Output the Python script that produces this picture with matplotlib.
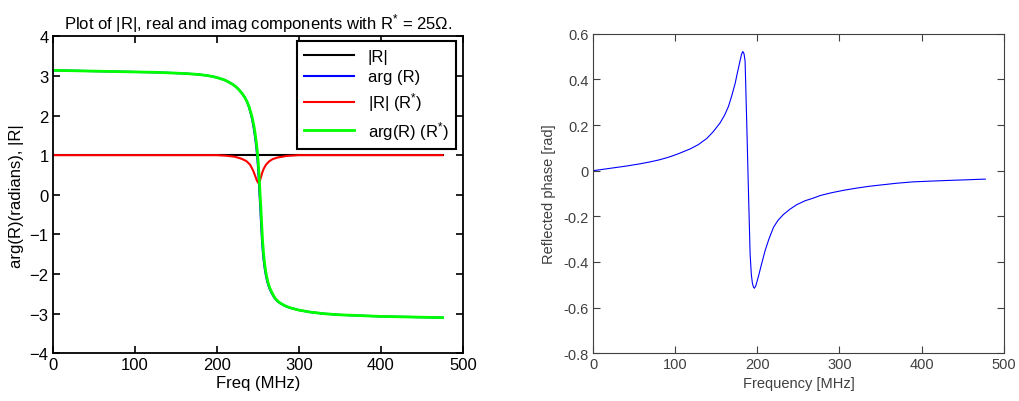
import matplotlib
matplotlib.use('Agg')
import matplotlib.pyplot as plt

plt.rcParams['font.family'] = ['Liberation Sans', 'DejaVu Sans']
plt.rcParams['mathtext.fontset'] = 'custom'
plt.rcParams['mathtext.rm'] = 'Liberation Sans'
plt.rcParams['mathtext.it'] = 'Liberation Sans'

# left panel: |R| and arg(R) vs frequency
freq_g = [0, 25, 50, 75, 100, 125, 150, 165, 178, 188, 196, 203, 209, 214, 219, 223, 227, 231,
          234, 237, 239.5, 241.5, 243.3, 245, 246.5, 247.7, 248.8, 249.8, 250.8, 251.8, 252.6,
          253.6, 254.7, 255.7, 256.7, 257.7, 258.7, 259.8, 260.8, 262.1, 263.5, 265.1, 266.9,
          269, 271, 274, 277, 283, 289, 300, 313.5, 330, 350, 375, 400, 425, 450, 475]
arg_rstar = [3.14, 3.13, 3.12, 3.11, 3.10, 3.09, 3.07, 3.055, 3.035, 3.01, 2.98, 2.94, 2.90,
             2.85, 2.79, 2.73, 2.65, 2.55, 2.46, 2.34, 2.21, 2.07, 1.93, 1.76, 1.57, 1.39, 1.20,
             0.98, 0.72, 0.38, 0.05, -0.30, -0.76, -1.14, -1.42, -1.64, -1.81, -1.96, -2.07,
             -2.19, -2.29, -2.38, -2.46, -2.54, -2.61, -2.68, -2.73, -2.80, -2.85, -2.91, -2.96,
             -3.00, -3.03, -3.05, -3.07, -3.08, -3.09, -3.10]
freq_b = [0, 25, 50, 75, 100, 125, 150, 165, 178, 188, 196, 203, 209, 214, 219, 223, 227, 231,
          234, 237, 239.2, 241.0, 242.7, 244.3, 245.8, 247.0, 248.1, 249.1, 250.1, 251.1, 251.9,
          252.9, 254.0, 255.0, 256.0, 257.0, 258.0, 259.1, 260.1, 261.4, 262.8, 264.4, 266.2,
          268.4, 270.4, 273.5, 276.5, 282.6, 288.7, 300, 313.5, 330, 350, 375, 400, 425, 450, 475]
arg_r = arg_rstar
freq_k = [0, 475]
mag_r = [1.0, 1.0]
freq_r = [0, 200, 212, 222, 230, 236, 240.5, 244.5, 247, 248.8, 250.5, 252, 253.6, 255.2,
          257.2, 260, 263.5, 268, 274, 285, 300, 475]
mag_rstar = [1.0, 1.0, 0.985, 0.96, 0.91, 0.85, 0.76, 0.60, 0.46, 0.36, 0.30, 0.33, 0.43, 0.55,
             0.66, 0.76, 0.84, 0.90, 0.94, 0.98, 1.0, 1.0]

# right panel: reflected phase
freq_p = [0, 20, 40, 57, 70, 80, 90, 97.6, 105, 117.9, 128, 138.3, 146, 154.5, 160, 164.7, 168.5,
          172.8, 176, 178.9, 180.7, 182.2, 183.7, 185, 187, 189, 191.1, 192.6, 193.9, 195.2,
          196.3, 198, 201.2, 205, 209.4, 214, 219.5, 225, 231.7, 240, 248, 258, 268.3, 276.5,
          290, 305, 320, 335, 349.6, 370, 390, 410, 431, 455, 477.7]
phase = [0.0, 0.01, 0.02, 0.03, 0.039, 0.047, 0.057, 0.066, 0.076, 0.095, 0.114, 0.141, 0.170,
         0.209, 0.243, 0.281, 0.325, 0.381, 0.435, 0.482, 0.510, 0.522, 0.512, 0.48, 0.209,
         -0.077, -0.364, -0.455, -0.493, -0.510, -0.515, -0.505, -0.464, -0.41, -0.35, -0.30,
         -0.249, -0.218, -0.192, -0.168, -0.149, -0.132, -0.12, -0.109, -0.097, -0.086, -0.077,
         -0.069, -0.063, -0.055, -0.049, -0.046, -0.043, -0.040, -0.037]

fig = plt.figure(figsize=(10.19, 4.02), dpi=100)

ax1 = fig.add_axes([0.0517, 0.1187, 0.4027, 0.7886])
ax1.plot(freq_k, mag_r, color='k', linewidth=1.5, label='|R|')
ax1.plot(freq_b, arg_r, color='#0000ff', linewidth=1.5, label='arg (R)')
ax1.plot(freq_r, mag_rstar, color='#ff0000', linewidth=1.5, label='|R| (R$^{*}$)')
ax1.plot(freq_g, arg_rstar, color='#00ff00', linewidth=2.0, label='arg(R) (R$^{*}$)')
ax1.set_xlim(0, 500)
ax1.set_ylim(-4, 4)
ax1.set_xticks([0, 100, 200, 300, 400, 500])
ax1.set_yticks([-4, -3, -2, -1, 0, 1, 2, 3, 4])
ax1.tick_params(direction='in', top=True, right=True, labelsize=12, width=1.2, length=5, pad=3)
for s in ax1.spines.values():
    s.set_linewidth(1.3)
ax1.set_xlabel('Freq (MHz)', fontsize=12, labelpad=2)
ax1.set_ylabel('arg(R)(radians), |R|', fontsize=12, labelpad=4)
ax1.set_title('Plot of |R|, real and imag components with R$^{*}$ = 25Ω.', fontsize=12, pad=6)
leg = ax1.legend(loc='upper right', bbox_to_anchor=(0.983, 0.985), borderaxespad=0,
                 fancybox=False, framealpha=1, edgecolor='k', fontsize=12,
                 handlelength=3.0, labelspacing=0.35, borderpad=0.45)
leg.get_frame().set_linewidth(1.5)

ax2 = fig.add_axes([0.5822, 0.1187, 0.4027, 0.795])
ax2.plot(freq_p, phase, color='#0000ff', linewidth=0.8)
ax2.set_xlim(0, 500)
ax2.set_ylim(-0.8, 0.6)
ax2.set_xticks([0, 100, 200, 300, 400, 500])
ax2.set_yticks([-0.8, -0.6, -0.4, -0.2, 0, 0.2, 0.4, 0.6])
ax2.set_yticklabels(['-0.8', '-0.6', '-0.4', '-0.2', '0', '0.2', '0.4', '0.6'])
ax2.tick_params(direction='in', top=True, right=True, labelsize=10.5, colors='#404040',
                width=0.8, length=5, pad=3)
for s in ax2.spines.values():
    s.set_linewidth(0.8)
    s.set_color('#404040')
ax2.set_xlabel('Frequency [MHz]', fontsize=10.5, color='#404040', labelpad=3)
ax2.set_ylabel('Reflected phase [rad]', fontsize=10.5, color='#404040', labelpad=6)

fig.savefig('out.png', dpi=100)
